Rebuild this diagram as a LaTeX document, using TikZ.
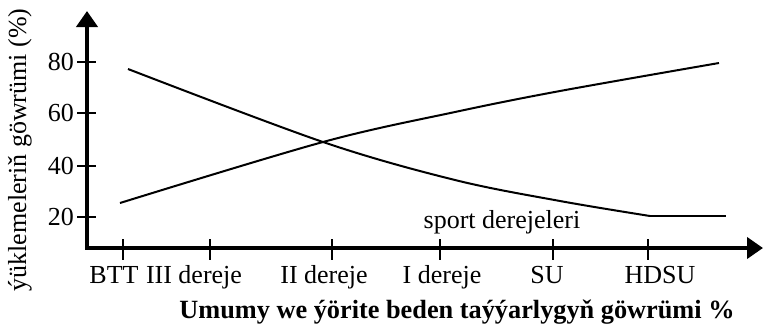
\documentclass[tikz,border=0pt]{standalone}
\usepackage{fontspec}
\setmainfont{Liberation Serif}
\usetikzlibrary{arrows.meta}
\begin{document}
\begin{tikzpicture}[x=1pt,y=-1pt,
  lbl/.style={font=\fontsize{26}{30}\selectfont, inner sep=0pt},
  ttl/.style={font=\fontsize{26.3}{30}\selectfont\bfseries, inner sep=0pt},
  axis/.style={line width=4pt, -{Triangle[length=16pt,width=21pt]}},
  tick/.style={line width=2pt},
  curve/.style={line width=2pt}]
\useasboundingbox (0,0) rectangle (763,325);
% axes
\coordinate (O) at (87,248);
\coordinate (Ytip) at (87,11);
\coordinate (Xtip) at (763,248);
\draw[axis] ([yshift=2pt]O) -- (Ytip);
\draw[axis] ([xshift=-2pt]O) -- (Xtip);
% y ticks
\foreach \yy/\t in {62/80,113/60,166/40,217/20}{
  \draw[tick] (77,\yy) -- (96,\yy);
  \node[lbl, anchor=east] (y\t) at (74,\yy) {\t};
}
% x ticks
\foreach \xx in {123,210,332,440,553,648}{
  \draw[tick] (\xx,239) -- (\xx,260);
}
\node[lbl, anchor=base] (bt) at (114,283) {BTT};
\node[lbl, anchor=base] (d3) at (194,283) {III dereje};
\node[lbl, anchor=base] (d2) at (324,283) {II dereje};
\node[lbl, anchor=base] (d1) at (442,283) {I dereje};
\node[lbl, anchor=base] (su) at (547,283) {SU};
\node[lbl, anchor=base] (hd) at (660,283) {HDSU};
\node[lbl, anchor=base] (sp) at (502,228) {sport derejeleri};
\node[ttl, anchor=base] (title) at (457,318) {Umumy we ýörite beden taýýarlygyň göwrümi \%};
\node[lbl, rotate=90] (ylab) at (20,150) {ýüklemeleriň göwrümi (\%)};
% curves
\draw[curve] plot[smooth, tension=0.55] coordinates {(128,69) (323,142) (455,180) (560,201) (650,216)};
\draw[line width=2.5pt] (650,216) -- (726,216);
\draw[curve] plot[smooth, tension=0.55] coordinates {(120,203) (323,142) (455,112) (560,91) (719,63)};
\end{tikzpicture}
\end{document}
